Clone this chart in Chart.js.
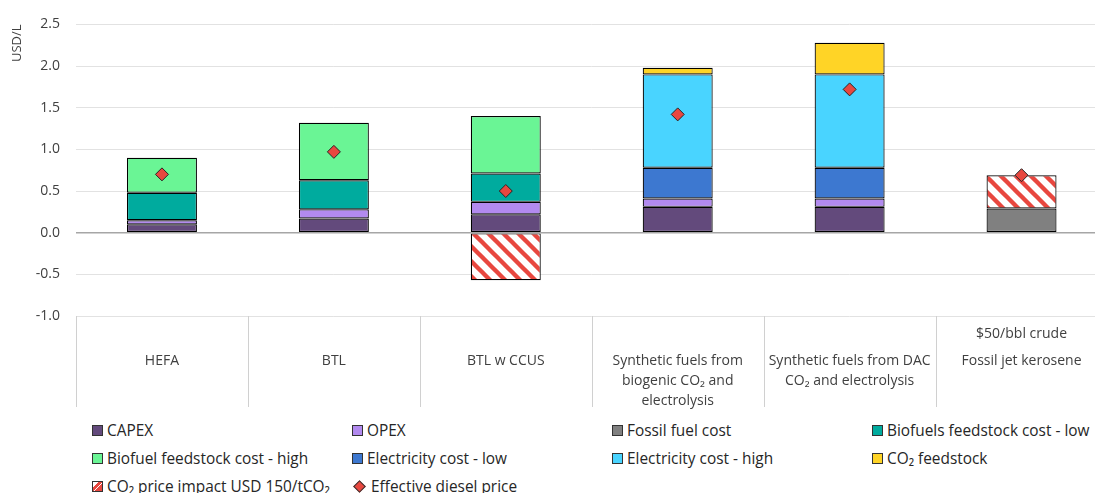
<!DOCTYPE html>
<html>
<head>
<meta charset="utf-8">
<script src="https://cdn.jsdelivr.net/npm/chart.js@4"></script>
<style>
  body { margin: 0; overflow: hidden; background: #fff; font-family: "Open Sans", sans-serif; }
  #wrap { position: relative; width: 1115px; height: 410px; }
  #legend { position: absolute; left: 0; top: 410px; width: 1095px; height: 83px; }
  .item { position: absolute; display: flex; align-items: center; font-size: 15.4px; color: #262626; white-space: nowrap; }
  .box { width: 9px; height: 9px; border: 1px solid #333; margin-right: 4px; }
  .diamond { width: 7px; height: 7px; background: #e8473f; border: 1px solid #333; transform: rotate(45deg); margin: 0 7px 0 3px; }
</style>
</head>
<body>
<div id="wrap"><canvas id="chart" width="1115" height="410"></canvas></div>
<div id="legend"></div>
<script>
// categories and sub-labels
const categories = [
  "HEFA",
  "BTL",
  "BTL w CCUS",
  ["Synthetic fuels from", "biogenic CO\u2082 and", "electrolysis"],
  ["Synthetic fuels from DAC", "CO\u2082 and electrolysis"],
  "Fossil jet kerosene"
];
const topLabels = ["", "", "", "", "", "$50/bbl crude"];

// cost components, USD/L
const capex        = [0.10, 0.17, 0.22, 0.31, 0.31, null];
const opex         = [0.05, 0.11, 0.15, 0.10, 0.10, null];
const fossilFuel   = [null, null, null, null, null, 0.29];
const bioLow       = [0.33, 0.35, 0.34, null, null, null];
const bioHigh      = [0.42, 0.69, 0.69, null, null, null];
const elecLow      = [null, null, null, 0.37, 0.37, null];
const elecHigh     = [null, null, null, 1.12, 1.12, null];
const co2Feedstock = [null, null, null, 0.08, 0.38, null];
const co2Price     = [null, null, -0.57, null, null, 0.40];
const dieselPrice  = [0.70, 0.97, 0.50, 1.42, 1.72, 0.69];

const yTicks = [-1.0, -0.5, 0.0, 0.5, 1.0, 1.5, 2.0, 2.5];

const RED = "#e8473f";

// hatch pattern for the CO2 price impact
function stripes() {
  const c = document.createElement("canvas");
  c.width = 15; c.height = 15;
  const g = c.getContext("2d");
  g.fillStyle = "#fff";
  g.fillRect(0, 0, 15, 15);
  g.strokeStyle = RED;
  g.lineWidth = 4.4;
  for (let k = -15; k <= 15; k += 15) {
    g.beginPath();
    g.moveTo(k - 2, -2);
    g.lineTo(k + 17, 17);
    g.stroke();
  }
  return g.createPattern(c, "repeat");
}

const FAMILY = "'Open Sans', sans-serif";

function bar(label, data, color) {
  return {
    type: "bar", label: label, data: data, backgroundColor: color,
    borderColor: "#000", borderWidth: 1.2, borderSkipped: false, inflateAmount: 0,
    order: 1, stack: "s"
  };
}

const dividers = {
  id: "dividers",
  afterDraw(chart) {
    const x = chart.scales.x;
    const ctx = chart.ctx;
    ctx.save();
    ctx.strokeStyle = "#d0d0d0";
    ctx.lineWidth = 1;
    for (let i = 0; i <= categories.length; i++) {
      const px = Math.round(x.getPixelForValue(i - 0.5)) + 0.5;
      ctx.beginPath();
      ctx.moveTo(px, x.top);
      ctx.lineTo(px, x.top + 91);
      ctx.stroke();
    }
    ctx.fillStyle = "#404040";
    ctx.font = "14px " + FAMILY;
    ctx.textAlign = "center";
    ctx.textBaseline = "middle";
    topLabels.forEach((t, i) => {
      if (t) ctx.fillText(t, x.getPixelForValue(i), x.top + 18);
    });
    ctx.restore();
  }
};

new Chart(document.getElementById("chart"), {
  data: {
    labels: categories,
    datasets: [
      bar("CAPEX", capex, "#634a7c"),
      bar("OPEX", opex, "#b28aef"),
      bar("Fossil fuel cost", fossilFuel, "#808080"),
      bar("Biofuels feedstock cost - low", bioLow, "#00ab9e"),
      bar("Biofuel feedstock cost - high", bioHigh, "#6af595"),
      bar("Electricity cost - low", elecLow, "#3d78d0"),
      bar("Electricity cost - high", elecHigh, "#49d4ff"),
      bar("CO\u2082 feedstock", co2Feedstock, "#ffd426"),
      bar("CO\u2082 price impact USD 150/tCO\u2082", co2Price, stripes()),
      {
        type: "line", label: "Effective diesel price", data: dieselPrice,
        showLine: false, pointStyle: "rectRot", pointRadius: 6.5,
        pointBackgroundColor: RED, pointBorderColor: "#262626", pointBorderWidth: 1,
        order: 0
      }
    ]
  },
  options: {
    responsive: false,
    animation: false,
    layout: { padding: { top: 22, left: 0, right: 0, bottom: 0 } },
    datasets: { bar: { categoryPercentage: 1, barPercentage: 0.407 } },
    plugins: { legend: { display: false }, tooltip: { enabled: false } },
    scales: {
      x: {
        stacked: true,
        grid: { display: false },
        border: { display: false },
        ticks: {
          autoSkip: false, maxRotation: 0, padding: 27, color: "#404040",
          font: { family: FAMILY, size: 14, lineHeight: "20px" }
        },
        afterFit(s) { s.height = 94; }
      },
      y: {
        stacked: true,
        min: -1, max: 2.5,
        afterBuildTicks(s) { s.ticks = yTicks.map(v => ({ value: v })); },
        grid: {
          color: (c) => (c.tick && c.tick.value === 0 ? "#a6a6a6" : "#e2e2e2"),
          lineWidth: (c) => (c.tick && c.tick.value === 0 ? 1.4 : 1),
          drawTicks: false
        },
        border: { display: false },
        ticks: {
          padding: 16, color: "#404040",
          font: { family: FAMILY, size: 14 },
          callback: (v) => Number(v).toFixed(1)
        },
        title: {
          display: true, text: "USD/L", align: "end", color: "#404040",
          font: { family: FAMILY, size: 13 },
          padding: { top: 9, bottom: 0 }
        },
        afterFit(s) { s.width = 76; }
      }
    }
  },
  plugins: [dividers]
});

// legend laid out in four columns like the original
const legendItems = [
  ["CAPEX", "#634a7c"], ["OPEX", "#b28aef"], ["Fossil fuel cost", "#808080"], ["Biofuels feedstock cost - low", "#00ab9e"],
  ["Biofuel feedstock cost - high", "#6af595"], ["Electricity cost - low", "#3d78d0"], ["Electricity cost - high", "#49d4ff"], ["CO\u2082 feedstock", "#ffd426"],
  ["CO\u2082 price impact USD 150/tCO\u2082", "hatch"], ["Effective diesel price", "diamond"]
];
const legend = document.getElementById("legend");
legendItems.forEach((it, i) => {
  const d = document.createElement("div");
  d.className = "item";
  d.style.left = (92 + (i % 4) * 260) + "px";
  d.style.top = (20 + Math.floor(i / 4) * 28 - 10) + "px";
  d.style.height = "20px";
  let mark;
  if (it[1] === "diamond") {
    mark = '<span class="diamond"></span>';
  } else if (it[1] === "hatch") {
    mark = '<span class="box" style="background:linear-gradient(135deg,#fff 0 30%,' + RED + ' 30% 50%,#fff 50% 60%,' + RED + ' 60% 100%)"></span>';
  } else {
    mark = '<span class="box" style="background:' + it[1] + '"></span>';
  }
  d.innerHTML = mark + "<span>" + it[0] + "</span>";
  legend.appendChild(d);
});
</script>
</body>
</html>
